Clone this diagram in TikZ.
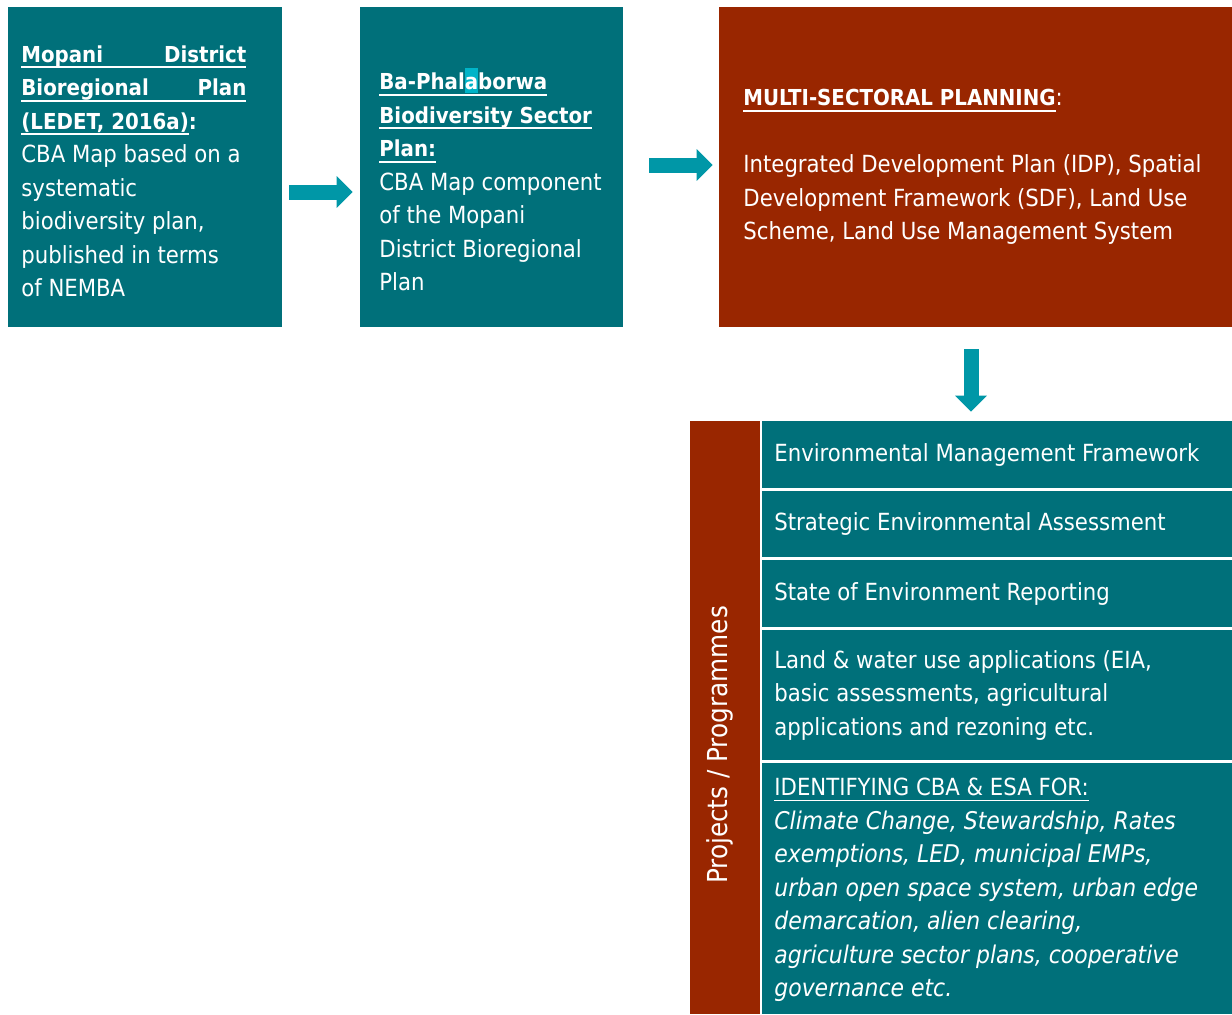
\documentclass[tikz,border=0pt]{standalone}
\usepackage{fontspec}
\setmainfont{DejaVu Sans Condensed}
\usetikzlibrary{arrows.meta,fit}
\definecolor{boxteal}{RGB}{0,112,122}
\definecolor{boxred}{RGB}{153,38,0}
\definecolor{arrowteal}{RGB}{0,151,167}
\definecolor{markcyan}{RGB}{0,180,200}
\newcommand{\boxfont}{\fontsize{11.8}{16.75}\selectfont}
\newcommand{\headfont}{\fontsize{11}{16.75}\selectfont\bfseries}
\newcommand{\slantfont}{\fontsize{12.2}{16.75}\selectfont\itshape}
\newcommand{\ulbox}[1]{\setbox0\hbox{#1}\rlap{\rule[-3pt]{\wd0}{1pt}}\box0}
\newcommand{\ulthin}[1]{\setbox0\hbox{#1}\rlap{\rule[-2.6pt]{\wd0}{0.7pt}}\box0}
\newcommand{\markletter}[1]{\setbox2\hbox{#1}\rlap{\textcolor{markcyan}{\rule[-1.8pt]{\wd2}{12.5pt}}}\box2}
\begin{document}
\begin{tikzpicture}[x=0.5pt, y=-0.5pt,
  every node/.style={inner sep=0pt, text=white},
  tealbox/.style={fill=boxteal, draw=none},
  redbox/.style={fill=boxred, draw=none},
  boxtext/.style={anchor=north west, align=left, font=\boxfont},
  flow/.style={draw=arrowteal, line width=7.5pt, -{Triangle[length=8pt, width=15.5pt]}}]
\useasboundingbox (0,0) rectangle (1232,1014);
\node [tealbox, fit={(8,7) (282,327)}] (mopani) {};
\node [tealbox, fit={(360,7) (623,327)}] (baphal) {};
\node [redbox, fit={(719,7) (1232,327)}] (multi) {};
\node [redbox, fit={(690,421) (760,1014)}] (projbar) {};
\foreach \n/\t/\b in {emf/421/488, sea/491/557, soe/560/627, lwu/630/760, cba/763/1014}
  \node [tealbox, fit={(762,\t) (1232,\b)}] (\n) {};
\node [boxtext] (mopani-text) at (21,45) {%
  \ulbox{\headfont\makebox[112.5pt][s]{Mopani\hfill District}}\\
  \ulbox{\headfont\makebox[112.5pt][s]{Bioregional\hfill Plan}}\\
  \ulbox{\headfont (LEDET, 2016a)}{\headfont :}\\
  CBA Map based on a\\ systematic\\ biodiversity plan,\\ published in terms\\ of NEMBA};
\node [boxtext] (baphal-text) at (379,68) {%
  \ulbox{\headfont Ba-Phal\markletter{a}borwa}\\
  \ulbox{\headfont Biodiversity Sector}\\
  \ulbox{\headfont Plan:}\\
  CBA Map component\\ of the Mopani\\ District Bioregional\\ Plan};
\node [boxtext] (multi-text) at (743,89) {%
  \ulbox{\headfont MULTI-SECTORAL PLANNING}:\\[16.75pt]
  Integrated Development Plan (IDP), Spatial\\
  Development Framework (SDF), Land Use\\
  Scheme, Land Use Management System};
\foreach \n/\y/\l in {emf/443/Environmental Management Framework,
    sea/512/Strategic Environmental Assessment,
    soe/582/State of Environment Reporting}
  \node [boxtext] (\n-text) at (774,\y) {\l};
\node [boxtext] (lwu-text) at (774,650) {%
  Land \& water use applications (EIA,\\
  basic assessments, agricultural\\
  applications and rezoning etc.};
\node [boxtext, font=\slantfont] (cba-text) at (774,778) {%
  \ulthin{\boxfont\upshape IDENTIFYING CBA \& ESA FOR:}\\
  Climate Change, Stewardship, Rates\\
  exemptions, LED, municipal EMPs,\\
  urban open space system, urban edge\\
  demarcation, alien clearing,\\
  agriculture sector plans, cooperative\\
  governance etc.};
\node [rotate=90, font=\fontsize{13.75}{16}\selectfont] (projlabel) at (720,745) {Projects / Programmes};
\draw [flow] ([shift={(7,25)}]mopani.east) -- ([shift={(-7,25)}]baphal.west);
\draw [flow] ([shift={(26,-2)}]baphal.east) -- ([shift={(-6,-2)}]multi.west);
\draw [flow] ([shift={(-4.5,22)}]multi.south) -- ([shift={(-26,-9)}]emf.north);
\end{tikzpicture}
\end{document}
